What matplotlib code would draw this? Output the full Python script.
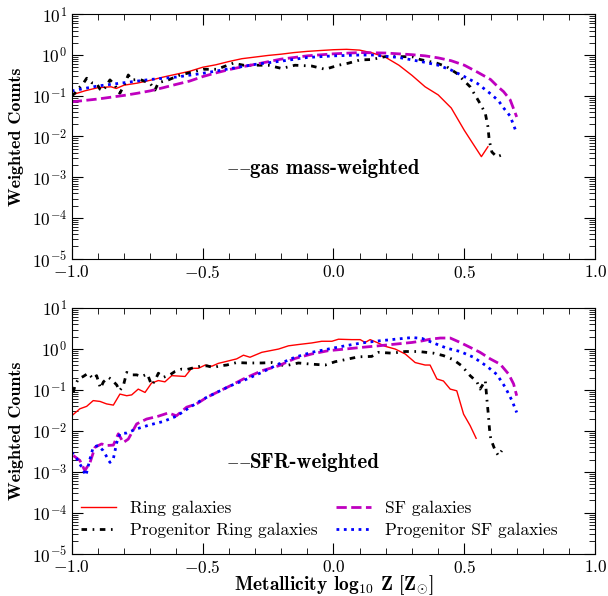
import matplotlib
matplotlib.use('Agg')
import matplotlib.pyplot as plt
from matplotlib.ticker import MultipleLocator, LogLocator, NullFormatter

plt.rcParams['font.family'] = 'serif'
plt.rcParams['font.serif'] = ['cmr10']
plt.rcParams['mathtext.fontset'] = 'cm'
plt.rcParams['axes.formatter.use_mathtext'] = True

# gas mass-weighted (top panel)
ring_gas_x = [-1.0, -0.95, -0.9, -0.85, -0.83, -0.8, -0.75, -0.7, -0.65, -0.6, -0.55, -0.5,
              -0.45, -0.4, -0.35, -0.3, -0.25, -0.2, -0.15, -0.1, -0.05, 0.0, 0.05, 0.1,
              0.15, 0.2, 0.25, 0.3, 0.35, 0.4, 0.45, 0.5, 0.53, 0.565, 0.59]
ring_gas_y = [0.105, 0.132, 0.158, 0.166, 0.151, 0.182, 0.204, 0.24, 0.288, 0.339, 0.398, 0.501,
              0.575, 0.692, 0.813, 0.891, 0.977, 1.05, 1.15, 1.23, 1.29, 1.35, 1.38, 1.32,
              1.12, 0.871, 0.562, 0.316, 0.166, 0.105, 0.050, 0.0141, 0.0071, 0.0032, 0.0056]

prog_ring_gas_x = [-1.0, -0.99, -0.98, -0.956, -0.943, -0.924, -0.905, -0.892, -0.88, -0.867,
                   -0.854, -0.835, -0.822, -0.816, -0.797, -0.784, -0.771, -0.739, -0.70, -0.682,
                   -0.669, -0.631, -0.586, -0.54, -0.497, -0.446, -0.383, -0.344, -0.30, -0.25,
                   -0.198, -0.147, -0.083, -0.032, 0.019, 0.057, 0.102, 0.146, 0.197, 0.25,
                   0.3, 0.331, 0.395, 0.433, 0.471, 0.522, 0.56, 0.58, 0.59, 0.595,
                   0.605, 0.624, 0.64]
prog_ring_gas_y = [0.1, 0.112, 0.138, 0.2, 0.269, 0.209, 0.2, 0.145, 0.132, 0.182,
                   0.245, 0.182, 0.126, 0.115, 0.2, 0.324, 0.245, 0.251, 0.2, 0.138,
                   0.209, 0.245, 0.324, 0.38, 0.447, 0.447, 0.631, 0.562, 0.562, 0.562,
                   0.468, 0.562, 0.537, 0.447, 0.562, 0.631, 0.759, 0.776, 0.912, 0.912,
                   0.912, 0.776, 0.631, 0.513, 0.355, 0.166, 0.0646, 0.0372, 0.0174, 0.00813,
                   0.00417, 0.00316, 0.00347]

sf_gas_x = [-1.0, -0.9, -0.8, -0.75, -0.7, -0.65, -0.6, -0.55, -0.5, -0.45, -0.4, -0.35,
            -0.3, -0.2, -0.1, 0.0, 0.1, 0.2, 0.3, 0.35, 0.4, 0.45, 0.5, 0.55, 0.6, 0.625,
            0.65, 0.675, 0.7]
sf_gas_y = [0.0708, 0.0832, 0.102, 0.115, 0.132, 0.158, 0.191, 0.229, 0.295, 0.363, 0.437, 0.513,
            0.589, 0.794, 0.955, 1.07, 1.15, 1.12, 1.02, 0.955, 0.851, 0.724, 0.562, 0.38, 0.251, 0.174,
            0.126, 0.0794, 0.0302]

prog_sf_gas_x = [-1.0, -0.9, -0.8, -0.7, -0.6, -0.5, -0.4, -0.3, -0.2, -0.1, 0.0, 0.1, 0.15,
                 0.2, 0.25, 0.3, 0.35, 0.4, 0.45, 0.5, 0.55, 0.6, 0.63, 0.65, 0.675, 0.7]
prog_sf_gas_y = [0.132, 0.174, 0.209, 0.251, 0.288, 0.355, 0.457, 0.589, 0.708, 0.871, 0.955, 1.0, 1.0,
                 0.933, 0.871, 0.759, 0.661, 0.562, 0.427, 0.295, 0.2, 0.112, 0.0759, 0.0501, 0.0316, 0.012]

# SFR-weighted (bottom panel)
ring_sfr_x = [-1.0, -0.969, -0.943, -0.918, -0.892, -0.867, -0.841, -0.816, -0.79, -0.771,
              -0.746, -0.72, -0.695, -0.669, -0.644, -0.618, -0.567, -0.542, -0.516, -0.49,
              -0.465, -0.44, -0.408, -0.37, -0.344, -0.319, -0.274, -0.21, -0.172, -0.134,
              -0.083, -0.045, -0.006, 0.019, 0.07, 0.102, 0.121, 0.14, 0.166, 0.197,
              0.236, 0.274, 0.312, 0.35, 0.369, 0.395, 0.42, 0.446, 0.471, 0.497,
              0.522, 0.545]
ring_sfr_y = [0.0234, 0.0347, 0.0398, 0.055, 0.0525, 0.0457, 0.0427, 0.0794, 0.0724, 0.0759,
              0.105, 0.0871, 0.148, 0.17, 0.158, 0.224, 0.214, 0.339, 0.339, 0.407,
              0.38, 0.447, 0.501, 0.575, 0.708, 0.631, 0.832, 1.0, 1.2, 1.29,
              1.41, 1.55, 1.55, 1.74, 1.7, 1.7, 1.45, 1.7, 1.45, 1.17,
              1.0, 0.759, 0.468, 0.407, 0.407, 0.186, 0.166, 0.105, 0.0955, 0.0257,
              0.0135, 0.0066]

prog_ring_sfr_x = [-0.994, -0.988, -0.975, -0.956, -0.937, -0.918, -0.905, -0.89, -0.879, -0.86,
                   -0.847, -0.828, -0.818, -0.803, -0.79, -0.771, -0.752, -0.733, -0.711, -0.695,
                   -0.682, -0.669, -0.65, -0.625, -0.606, -0.58, -0.561, -0.536, -0.51, -0.484,
                   -0.459, -0.433, -0.408, -0.37, -0.331, -0.274, -0.236, -0.185, -0.134, -0.083,
                   -0.032, 0.006, 0.044, 0.095, 0.146, 0.172, 0.223, 0.274, 0.325, 0.382,
                   0.42, 0.458, 0.49, 0.522, 0.548, 0.56, 0.58, 0.586, 0.592, 0.596,
                   0.601, 0.618, 0.63, 0.643]
prog_ring_sfr_y = [0.0871, 0.126, 0.186, 0.214, 0.257, 0.186, 0.224, 0.11, 0.158, 0.204,
                   0.178, 0.132, 0.0955, 0.126, 0.269, 0.234, 0.234, 0.214, 0.245, 0.132,
                   0.17, 0.257, 0.204, 0.234, 0.282, 0.324, 0.316, 0.347, 0.38, 0.389,
                   0.355, 0.389, 0.407, 0.468, 0.457, 0.457, 0.468, 0.389, 0.457, 0.427,
                   0.407, 0.49, 0.55, 0.646, 0.661, 0.832, 0.794, 0.871, 0.871, 0.794,
                   0.692, 0.55, 0.389, 0.224, 0.158, 0.105, 0.17, 0.0603, 0.0234, 0.0112,
                   0.0063, 0.0033, 0.0025, 0.0033]

sf_sfr_x = [-0.994, -0.969, -0.95, -0.93, -0.911, -0.886, -0.867, -0.841, -0.822, -0.803,
            -0.784, -0.752, -0.714, -0.669, -0.631, -0.6, -0.561, -0.523, -0.484, -0.446,
            -0.395, -0.344, -0.274, -0.21, -0.147, -0.083, -0.02, 0.044, 0.108, 0.172,
            0.236, 0.3, 0.338, 0.369, 0.408, 0.446, 0.484, 0.522, 0.56, 0.599,
            0.637, 0.669, 0.688, 0.70]
sf_sfr_y = [0.0025, 0.0019, 0.00107, 0.0017, 0.004, 0.0048, 0.0044, 0.0045, 0.0085, 0.0052,
            0.0063, 0.0148, 0.0195, 0.0229, 0.0275, 0.0234, 0.038, 0.0457, 0.0661, 0.0871,
            0.126, 0.186, 0.295, 0.389, 0.589, 0.759, 0.912, 1.0, 1.1, 1.2,
            1.32, 1.45, 1.58, 1.74, 1.86, 1.86, 1.45, 1.1, 0.832, 0.575,
            0.427, 0.245, 0.141, 0.0724]

prog_sf_sfr_x = [-1.0, -0.981, -0.962, -0.946, -0.93, -0.918, -0.899, -0.88, -0.854, -0.841,
                 -0.828, -0.816, -0.79, -0.752, -0.701, -0.65, -0.6, -0.548, -0.497, -0.446,
                 -0.395, -0.344, -0.274, -0.21, -0.147, -0.083, -0.02, 0.044, 0.108, 0.172,
                 0.236, 0.3, 0.338, 0.382, 0.433, 0.484, 0.535, 0.586, 0.624, 0.656,
                 0.682, 0.70]
prog_sf_sfr_y = [0.0030, 0.0021, 0.0013, 0.00081, 0.0021, 0.004, 0.0044, 0.0033, 0.0017, 0.0021,
                 0.0052, 0.0085, 0.0089, 0.0112, 0.0141, 0.017, 0.0229, 0.038, 0.0603, 0.0871,
                 0.126, 0.17, 0.269, 0.427, 0.631, 0.832, 1.0, 1.2, 1.41, 1.58,
                 1.74, 1.91, 1.82, 1.41, 1.05, 0.871, 0.631, 0.38, 0.24, 0.117,
                 0.055, 0.0282]

fig = plt.figure(figsize=(6.08, 5.96), dpi=100)
ax1 = fig.add_axes([0.118, 0.566, 0.861, 0.41])
ax2 = fig.add_axes([0.118, 0.071, 0.861, 0.412])

dashdot = (0, (2.0, 2.0, 0.6, 2.0))

panels = [
    (ax1, ring_gas_x, ring_gas_y, prog_ring_gas_x, prog_ring_gas_y, sf_gas_x, sf_gas_y,
     prog_sf_gas_x, prog_sf_gas_y, 'gas mass-weighted', 0.37),
    (ax2, ring_sfr_x, ring_sfr_y, prog_ring_sfr_x, prog_ring_sfr_y, sf_sfr_x, sf_sfr_y,
     prog_sf_sfr_x, prog_sf_sfr_y, 'SFR-weighted', 0.372),
]

for ax, rx, ry, prx, pry, sx, sy, psx, psy, label, ty in panels:
    ax.plot(rx, ry, color='red', lw=1.0, label='Ring galaxies')
    ax.plot(prx, pry, color='black', lw=2.0, linestyle=dashdot, label='Progenitor Ring galaxies')
    ax.plot(sx, sy, color='m', lw=2.0, linestyle='--', label='SF galaxies')
    ax.plot(psx, psy, color='blue', lw=2.0, linestyle=':', label='Progenitor SF galaxies')

    ax.set_yscale('log')
    ax.set_xlim(-1.0, 1.0)
    ax.set_ylim(1e-5, 10)
    ax.xaxis.set_major_locator(MultipleLocator(0.5))
    ax.xaxis.set_minor_locator(MultipleLocator(0.1))
    ax.yaxis.set_major_locator(LogLocator(base=10, numticks=10))
    ax.yaxis.set_minor_locator(LogLocator(base=10, subs=range(2, 10), numticks=20))
    ax.yaxis.set_minor_formatter(NullFormatter())
    ax.tick_params(which='both', direction='in', top=True, right=True, labelsize=12.5)
    ax.tick_params(which='major', length=8, width=0.8)
    ax.tick_params(which='minor', length=4, width=0.6)
    ax.set_ylabel('Weighted Counts', fontsize=13, family='cmb10')
    ax.yaxis.set_label_coords(-0.092, 0.5)
    # the two short dashes are set a bit smaller than the label text
    ax.text(0.295, ty, r'$-\!-$', transform=ax.transAxes, fontsize=11.5, va='center')
    ax.text(0.341, ty, label, transform=ax.transAxes, fontsize=15, family='cmb10',
            va='center')

ax2.set_xlabel(r'Metallicity log$_{\mathbf{10}}$ Z [Z$_{\odot}$]', fontsize=14,
               family='cmb10', labelpad=-2)

ax2.legend(loc='lower left', bbox_to_anchor=(-0.012, 0.0), ncol=2, frameon=False,
           fontsize=12.5, handlelength=2.0, handletextpad=0.8, columnspacing=1.1,
           labelspacing=0.4)

fig.savefig('out.png', dpi=100)
